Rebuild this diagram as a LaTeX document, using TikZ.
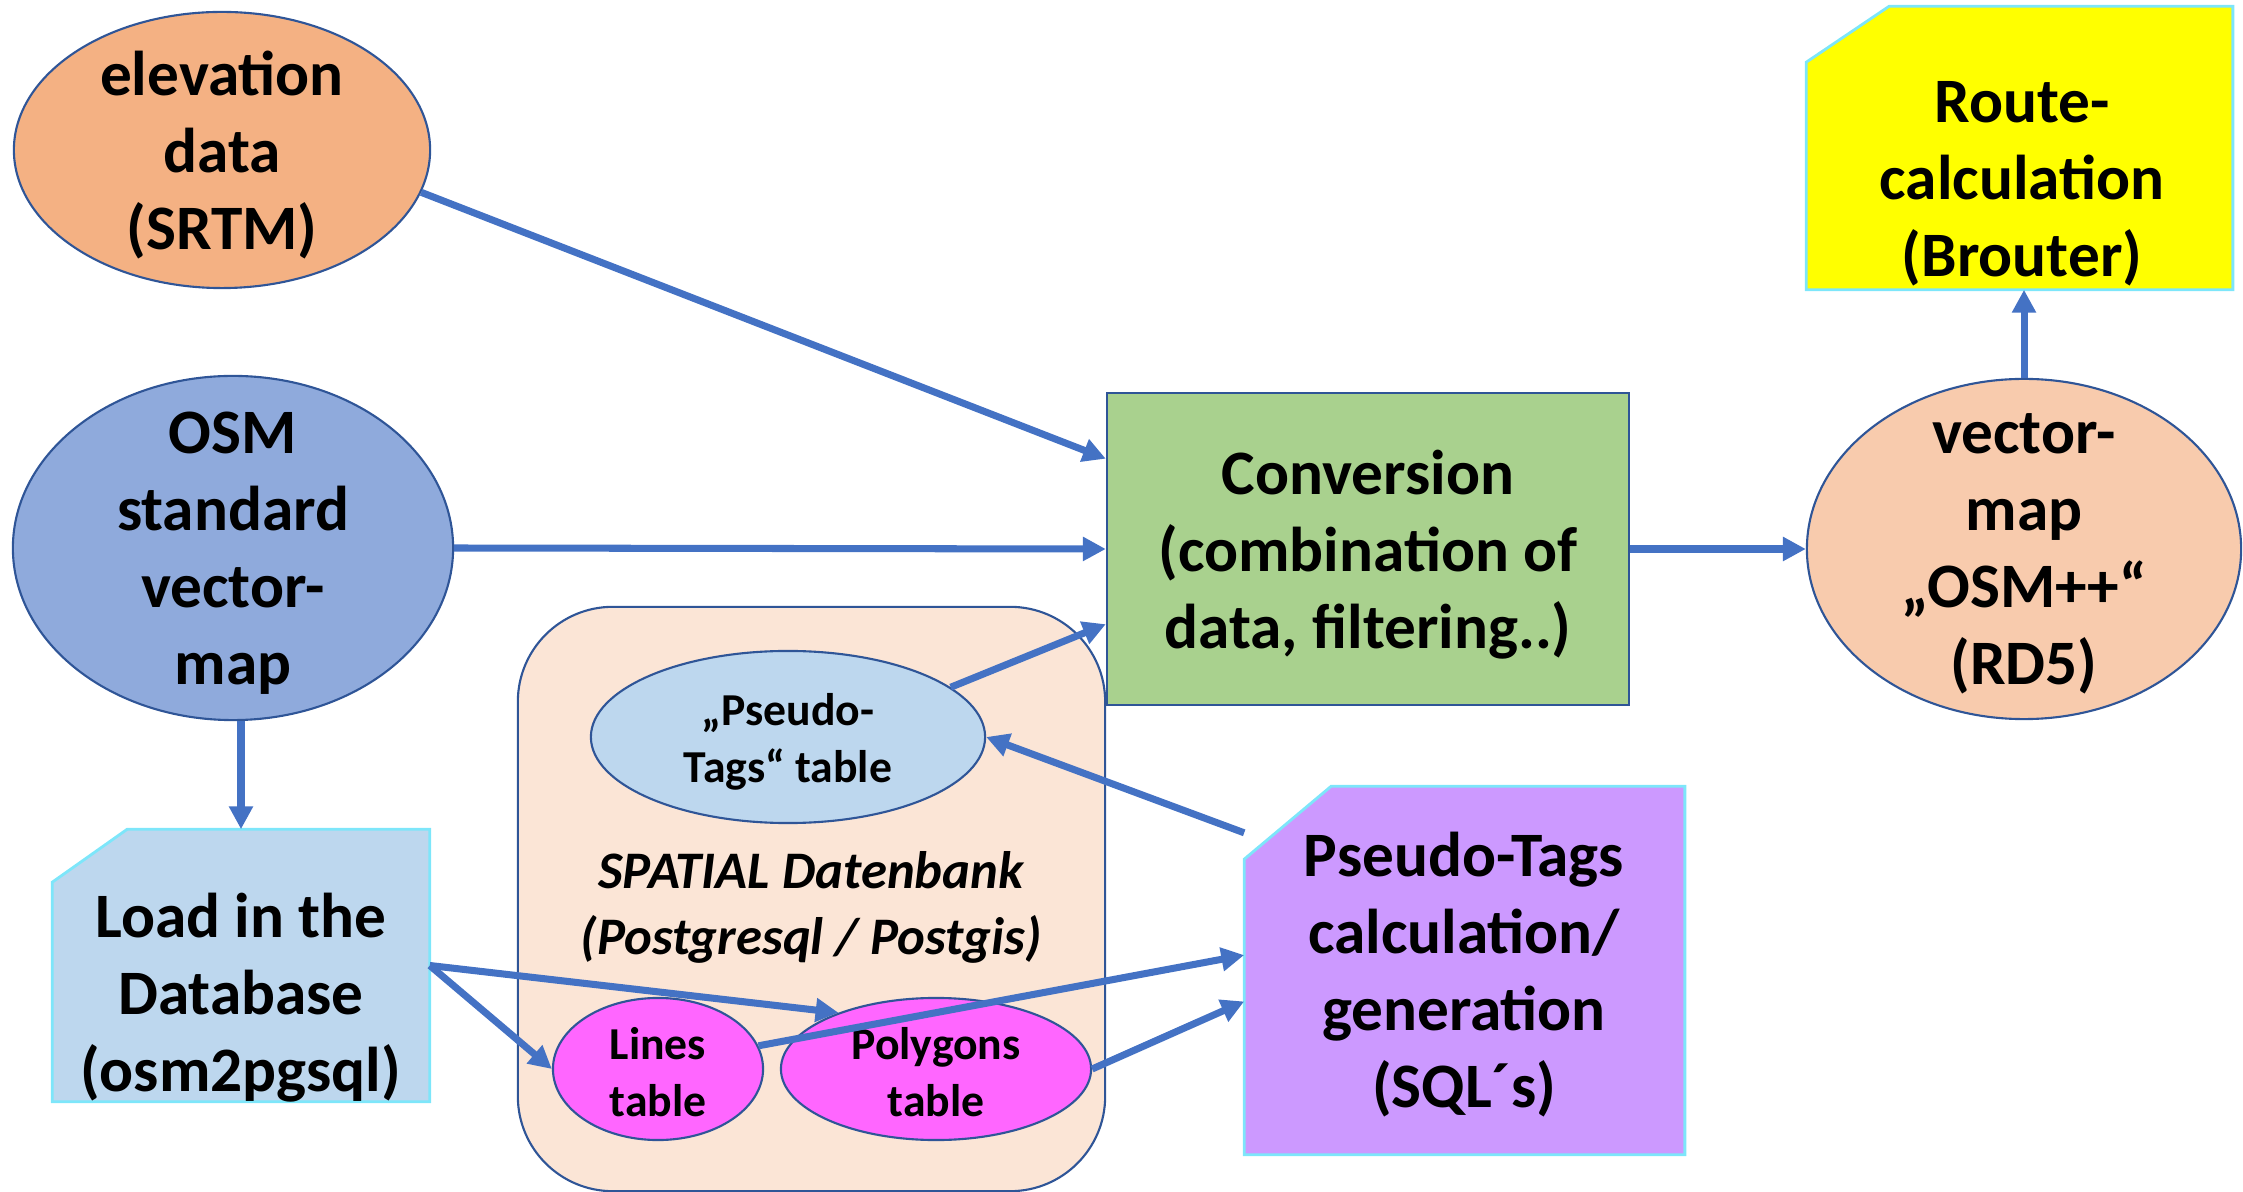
\documentclass[tikz,border=0pt]{standalone}
\usepackage{fontspec}
\setmainfont{Carlito}
\usetikzlibrary{shapes.geometric,arrows.meta,calc}
\definecolor{arrowblue}{HTML}{4472C4}
\definecolor{edgeblue}{HTML}{2F5597}
\definecolor{cyanedge}{HTML}{7DE6FA}
\definecolor{elevfill}{HTML}{F4B183}
\definecolor{osmfill}{HTML}{8FAADC}
\definecolor{vmapfill}{HTML}{F8CBAD}
\definecolor{convfill}{HTML}{A9D18E}
\definecolor{spatfill}{HTML}{FBE5D6}
\definecolor{lightbluefill}{HTML}{BDD7EE}
\definecolor{pinkfill}{HTML}{FF66FF}
\definecolor{routefill}{HTML}{FFFF00}
\definecolor{calcfill}{HTML}{CC99FF}
\newcommand\bigtxt{\fontsize{18}{21.9}\selectfont\bfseries}
\newcommand\smalltxt{\fontsize{13}{16.2}\selectfont\bfseries}
\newcommand\spattxt{\fontsize{15}{18.8}\selectfont\bfseries\itshape}
\tikzset{
  arr/.style={draw=arrowblue, line width=2pt, -{Triangle[length=6.5pt,width=6.5pt]}},
  ell/.style={ellipse, draw=edgeblue, line width=0.6pt, inner sep=0pt},
  boxanchor/.style={rectangle, inner sep=0pt, draw=none},
  snipbox/.style={draw=cyanedge, line width=0.8pt},
  txt/.style={align=center, inner sep=0pt, font=\bigtxt},
  stxt/.style={align=center, inner sep=0pt, font=\smalltxt},
}
\begin{document}
\begin{tikzpicture}[x=0.01cm,y=-0.01cm]
\useasboundingbox (0,0) rectangle (2243,1192);
% spatial database container
\node[rectangle, rounded corners=27pt, draw=edgeblue, fill=spatfill, line width=0.6pt,
      minimum width=5.87cm, minimum height=5.84cm] (spat) at (811.5,899) {};
\node[align=center, inner sep=0pt, font=\spattxt] (spatlabel) at (811,907) {SPATIAL Datenbank\\(Postgresql / Postgis)};
% ellipses
\node[ell, fill=elevfill, minimum width=4.16cm, minimum height=2.76cm] (elev) at (222,150) {};
\node[txt] (elevtxt) at ([yshift=-0.05cm]elev.center) {elevation\\data\\(SRTM)};
\node[ell, fill=osmfill, minimum width=4.40cm, minimum height=3.44cm] (osm) at (233,548) {};
\node[txt] (osmtxt) at ([yshift=-0.05cm]osm.center) {OSM\\standard\\vector-\\map};
\node[ell, fill=vmapfill, minimum width=4.34cm, minimum height=3.40cm] (vmap) at (2024,549) {};
\node[txt] (vmaptxt) at ([yshift=-0.05cm]vmap.center) {vector-\\map\\„OSM++“\\(RD5)};
\node[ell, fill=lightbluefill, minimum width=3.94cm, minimum height=1.72cm] (ptab) at (788,737) {};
\node[stxt] (ptabtxt) at ([yshift=-0.05cm]ptab.center) {„Pseudo-\\Tags“ table};
\node[ell, fill=pinkfill, minimum width=2.10cm, minimum height=1.42cm] (lines) at (658,1069) {};
\node[stxt] (linestxt) at ([yshift=-0.03cm]lines.center) {Lines\\table};
\node[ell, fill=pinkfill, minimum width=3.10cm, minimum height=1.42cm] (poly) at (936,1069) {};
\node[stxt] (polytxt) at ([yshift=-0.03cm]poly.center) {Polygons\\table};
% conversion box
\node[rectangle, draw=edgeblue, fill=convfill, line width=0.6pt,
      minimum width=5.22cm, minimum height=3.12cm] (conv) at (1368,549) {};
\node[txt] (convtxt) at ([yshift=-0.06cm]conv.center) {Conversion\\(combination of\\data, filtering..)};
% snipped boxes
\node[boxanchor, minimum width=3.76cm, minimum height=2.71cm] (load) at (241,965.5) {};
\filldraw[snipbox, fill=lightbluefill] ([yshift=-0.53cm]load.north west) -- ([xshift=0.75cm]load.north west) -- (load.north east) -- (load.south east) -- (load.south west) -- cycle;
\node[txt] (loadtxt) at (241,998) {Load in the\\Database\\(osm2pgsql)};
\node[boxanchor, minimum width=4.25cm, minimum height=2.82cm] (route) at (2019.5,148) {};
\filldraw[snipbox, fill=routefill] ([yshift=-0.56cm]route.north west) -- ([xshift=0.83cm]route.north west) -- (route.north east) -- (route.south east) -- (route.south west) -- cycle;
\node[txt] (routetxt) at (2022,184) {Route-\\calculation\\(Brouter)};
\node[boxanchor, minimum width=4.39cm, minimum height=3.67cm] (calc) at (1464.5,970.5) {};
\filldraw[snipbox, fill=calcfill] ([yshift=-0.73cm]calc.north west) -- ([xshift=0.87cm]calc.north west) -- (calc.north east) -- (calc.south east) -- (calc.south west) -- cycle;
\node[txt] (calctxt) at (1464,975) {Pseudo-Tags\\calculation/\\generation\\(SQL´s)};
% connectors
\draw[arr] (elev.-12) -- (conv.161);
\draw[arr] (osm.east) -- (conv.west);
\draw[arr] (ptab.17) -- (conv.196);
\draw[arr] (conv.east) -- (vmap.west);
\draw[arr] (vmap.north) -- (vmap.north |- route.south);
\draw[arr] (load.north |- osm.south) -- (load.north);
\draw[arr] (load.east) -- (lines.west);
\draw[arr] (load.east) -- (poly.150);
\draw[arr] (lines.13) -- (calc.176);
\draw[arr] (poly.east) -- (calc.188);
\draw[arr] (calc.148) -- (ptab.east);
\end{tikzpicture}
\end{document}
